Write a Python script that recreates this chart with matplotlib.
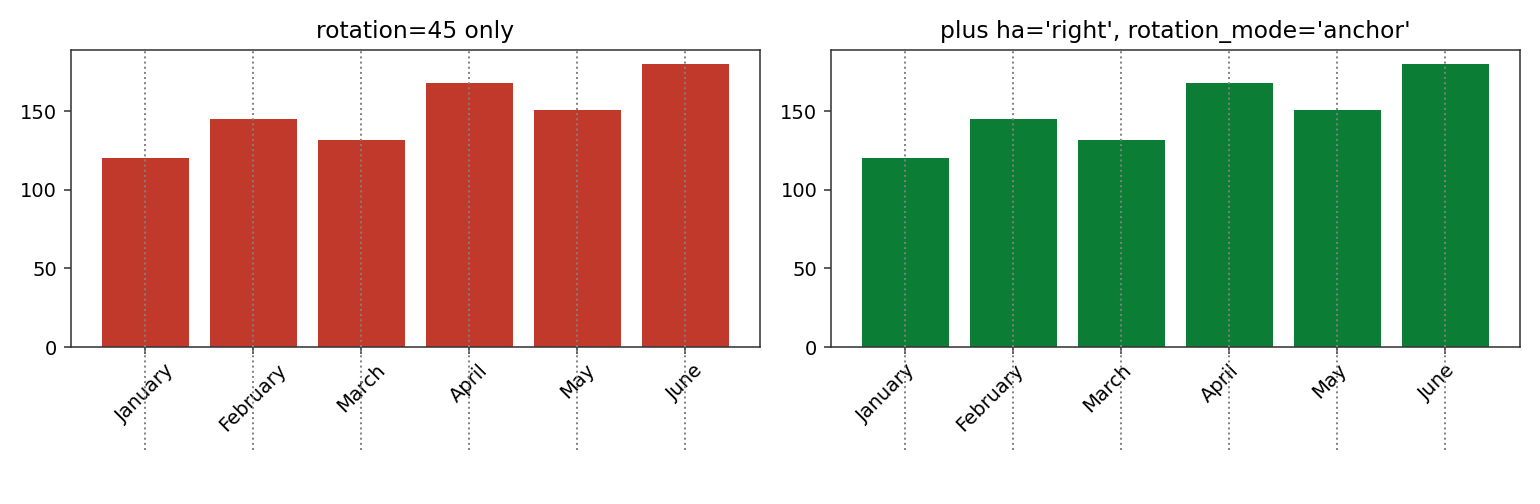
import matplotlib.pyplot as plt
from matplotlib.ticker import MultipleLocator


# ---------- Data ----------

MONTHS = ["January", "February", "March", "April", "May", "June"]
VALUES = [120, 145, 132, 168, 151, 180]

LEFT_COLOR = "#c0392b"
RIGHT_COLOR = "#0b7d35"
SPINE_COLOR = "#333333"


def style_axes(ax):
    for spine in ax.spines.values():
        spine.set_color(SPINE_COLOR)
    ax.tick_params(color=SPINE_COLOR)
    ax.yaxis.set_major_locator(MultipleLocator(50))
    # guide lines through each tick, running past the axis into the labels
    for x in range(len(MONTHS)):
        ax.axvline(x, ymin=-0.347, ymax=1, color="gray", linestyle=":",
                   linewidth=1.0, clip_on=False, zorder=3)


def main():
    fig, (ax1, ax2) = plt.subplots(1, 2, figsize=(11, 3.6), dpi=140)

    x = list(range(len(MONTHS)))

    ax1.bar(x, VALUES, color=LEFT_COLOR)
    ax1.set_xticks(x)
    ax1.set_xticklabels(MONTHS, rotation=45)
    ax1.set_title("rotation=45 only")
    style_axes(ax1)

    ax2.bar(x, VALUES, color=RIGHT_COLOR)
    ax2.set_xticks(x)
    ax2.set_xticklabels(MONTHS, rotation=45, ha="right", rotation_mode="anchor")
    ax2.set_title("plus ha='right', rotation_mode='anchor'")
    style_axes(ax2)

    fig.subplots_adjust(left=0.046, right=0.987, top=0.901, bottom=0.3115,
                        wspace=0.103)
    fig.savefig("out.png", dpi=140)
    plt.close(fig)


if __name__ == "__main__":
    main()
